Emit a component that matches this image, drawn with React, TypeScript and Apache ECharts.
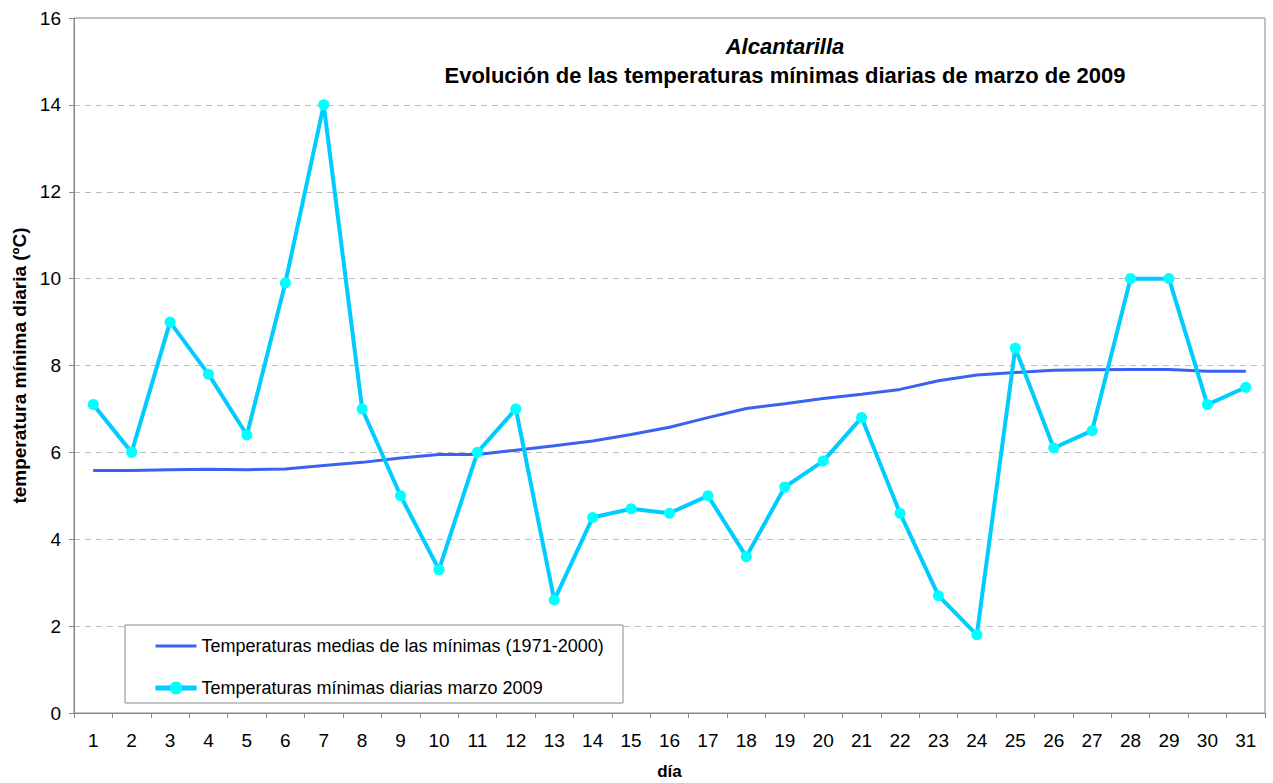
import React, { useEffect, useRef } from "react";
import * as echarts from "echarts";

const days = Array.from({ length: 31 }, (_, i) => String(i + 1));
const mediasMinimas = [5.58, 5.58, 5.6, 5.61, 5.6, 5.62, 5.7, 5.77, 5.87, 5.95, 5.95, 6.05, 6.15, 6.26, 6.41, 6.58, 6.8, 7.01, 7.12, 7.24, 7.34, 7.45, 7.65, 7.78, 7.84, 7.89, 7.9, 7.91, 7.91, 7.87, 7.87];
const minimasMarzo2009 = [7.1, 6.0, 9.0, 7.8, 6.4, 9.9, 14.0, 7.0, 5.0, 3.3, 6.0, 7.0, 2.6, 4.5, 4.7, 4.6, 5.0, 3.6, 5.2, 5.8, 6.8, 4.6, 2.7, 1.8, 8.4, 6.1, 6.5, 10.0, 10.0, 7.1, 7.5];
const seriesNames = [
  "Temperaturas medias de las mínimas (1971-2000)",
  "Temperaturas mínimas diarias marzo 2009",
];

export default function App() {
  const ref = useRef<HTMLDivElement>(null);
  useEffect(() => {
    if (!ref.current) return;
    const chart = echarts.init(ref.current, null, { renderer: "svg" });
    const font = "Liberation Sans, Arial, sans-serif";
    chart.setOption({
      animation: false,
      backgroundColor: "#fff",
      textStyle: { fontFamily: font },
      title: {
        text: "{it|Alcantarilla}\nEvolución de las temperaturas mínimas diarias de marzo de 2009",
        left: 780,
        top: 27,
        textAlign: "center",
        textStyle: {
          fontFamily: font,
          fontSize: 22,
          fontWeight: "bold",
          color: "#000",
          lineHeight: 29,
          rich: { it: { fontStyle: "italic", fontWeight: "bold", fontSize: 22, lineHeight: 29, fontFamily: font, color: "#000" } },
        },
      },
      grid: {
        left: 74,
        right: 8,
        top: 18,
        bottom: 70,
        show: true,
        borderColor: "#888",
        borderWidth: 1,
        containLabel: false,
        outerBoundsMode: "none",
      },
      graphic: [
        {
          type: "rect",
          shape: { x: 125, y: 625, width: 498, height: 78 },
          style: { fill: "#fff", stroke: "#888", lineWidth: 1 },
          z: 5,
        },
      ],
      legend: {
        orient: "vertical",
        left: 148,
        top: 631,
        itemGap: 22,
        itemWidth: 41,
        itemHeight: 16,
        z: 10,
        textStyle: { fontFamily: font, fontSize: 18, lineHeight: 20, color: "#000" },
        data: [
          { name: seriesNames[0], itemStyle: { opacity: 0 }, lineStyle: { width: 3 } },
          { name: seriesNames[1], lineStyle: { width: 5 } },
        ],
      },
      xAxis: {
        type: "category",
        data: days,
        boundaryGap: true,
        name: "día",
        nameLocation: "middle",
        nameGap: 50,
        nameTextStyle: { fontFamily: font, fontSize: 17, fontWeight: "bold", color: "#000" },
        axisLine: { lineStyle: { color: "#888", width: 1 } },
        axisTick: { show: true, length: 5, lineStyle: { color: "#888" } },
        axisLabel: { fontFamily: font, fontSize: 19, color: "#000", margin: 18 },
      },
      yAxis: {
        type: "value",
        min: 0,
        max: 16,
        interval: 2,
        name: "temperatura mínima diaria (ºC)",
        nameLocation: "middle",
        nameGap: 42,
        nameTextStyle: { fontFamily: font, fontSize: 19, fontWeight: "bold", color: "#000" },
        axisLine: { show: true, lineStyle: { color: "#888", width: 1 } },
        axisTick: { show: true, length: 5, lineStyle: { color: "#888" } },
        axisLabel: { fontFamily: font, fontSize: 19, color: "#000", margin: 13 },
        splitLine: { show: true, lineStyle: { color: "#bbb", type: [6, 5], width: 1 } },
      },
      series: [
        {
          name: seriesNames[0],
          type: "line",
          data: mediasMinimas,
          symbol: "none",
          lineStyle: { color: "#3A62F2", width: 3 },
          itemStyle: { color: "#3A62F2" },
          z: 2,
        },
        {
          name: seriesNames[1],
          type: "line",
          data: minimasMarzo2009,
          symbol: "circle",
          symbolSize: 11,
          lineStyle: { color: "#00CCFF", width: 4 },
          itemStyle: { color: "#00FFFF", borderWidth: 0 },
          z: 3,
        },
      ],
    });
    return () => chart.dispose();
  }, []);
  return <div ref={ref} style={{ width: 1273, height: 783, position: "absolute", left: 0, top: 0 }} />;
}
